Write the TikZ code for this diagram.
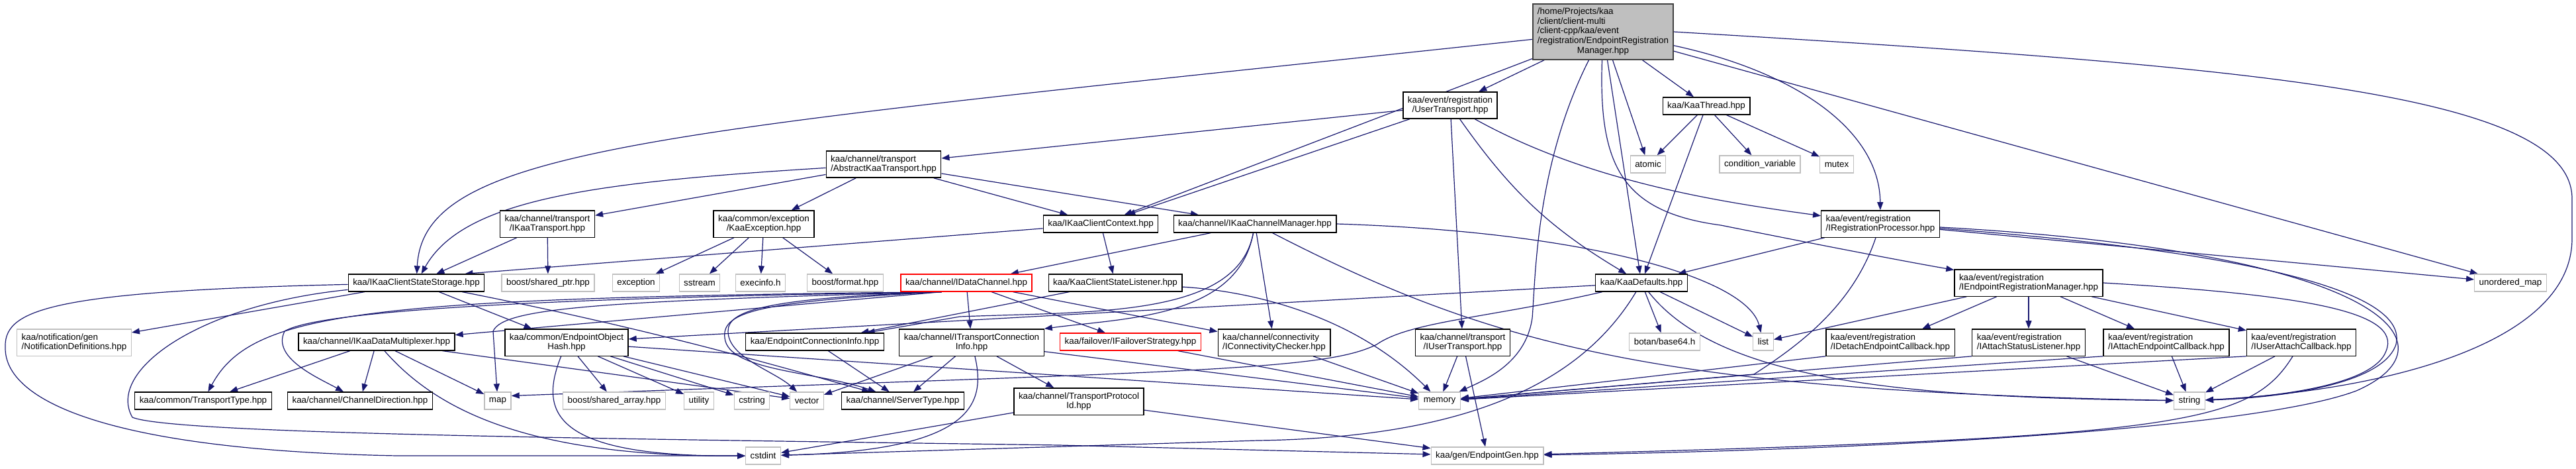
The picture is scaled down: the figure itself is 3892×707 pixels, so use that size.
\documentclass[tikz,border=0pt]{standalone}
\usepackage{fontspec}
\setmainfont{Liberation Sans}
\usetikzlibrary{arrows.meta}
\definecolor{depblue}{HTML}{191970}
\definecolor{sysgray}{HTML}{BFBFBF}
\pgfdeclarelayer{bg}
\pgfsetlayers{bg,main}
\tikzset{
  hdr/.style={draw=black,line width=1.3pt,fill=white,inner xsep=7pt,inner ysep=6.5pt,
    minimum height=26pt,align=center,font=\fontsize{13.4}{14.8}\selectfont},
  hdrl/.style={hdr,align=left},
  sys/.style={hdr,draw=sysgray},
  trunc/.style={hdr,draw=red},
  mainhdr/.style={hdr,fill=sysgray,draw=black!75,inner ysep=5pt},
  dep/.style={draw=depblue,line width=1.2pt,-{Triangle[length=12pt,width=9pt]}},
}
\begin{document}
\begin{tikzpicture}[x=1pt,y=-1pt]
\useasboundingbox (0,0) rectangle (3892,707);
% headers
\node[mainhdr] (root) at (2422,48) {\begin{tabular}{@{}l@{}}/home/Projects/kaa\\/client/client-multi\\/client-cpp/kaa/event\\/registration/EndpointRegistration\\\multicolumn{1}{@{}c@{}}{Manager.hpp}\end{tabular}};
\node[hdr] (usrtr) at (2191,159) {kaa/event/registration\\/UserTransport.hpp};
\node[hdr] (kthread) at (2578,160) {kaa/KaaThread.hpp};
\node[hdrl] (abstr) at (1335,248) {kaa/channel/transport\\/AbstractKaaTransport.hpp};
\node[sys] (atomic) at (2490,248) {atomic};
\node[sys] (condvar) at (2659,248) {condition\_variable};
\node[sys] (mutex) at (2775,248) {mutex};
\node[hdr] (iktr) at (827,338) {kaa/channel/transport\\/IKaaTransport.hpp};
\node[hdr] (kexc) at (1154,338) {kaa/common/exception\\/KaaException.hpp};
\node[hdr] (ctx) at (1663,338) {kaa/IKaaClientContext.hpp};
\node[hdr] (chmgr) at (1896,338) {kaa/channel/IKaaChannelManager.hpp};
\node[hdrl] (regproc) at (2841,338) {kaa/event/registration\\/IRegistrationProcessor.hpp};
\node[hdr] (stor) at (629,427) {kaa/IKaaClientStateStorage.hpp};
\node[sys] (shptr) at (828,427) {boost/shared\_ptr.hpp};
\node[sys] (exc) at (961,427) {exception};
\node[sys] (sstream) at (1057,427) {sstream};
\node[sys] (execinfo) at (1149,427) {execinfo.h};
\node[sys] (bfmt) at (1277,427) {boost/format.hpp};
\node[trunc] (dchan) at (1460,427) {kaa/channel/IDataChannel.hpp};
\node[hdr] (cslist) at (1685,427) {kaa/KaaClientStateListener.hpp};
\node[hdr] (kdef) at (2480,427) {kaa/KaaDefaults.hpp};
\node[hdrl] (eprm) at (3065,427) {kaa/event/registration\\/IEndpointRegistrationManager.hpp};
\node[sys] (umap) at (3793,427) {unordered\_map};
\node[sys,align=left] (notif) at (112,517) {kaa/notification/gen\\/NotificationDefinitions.hpp};
\node[hdr] (mux) at (569,516) {kaa/channel/IKaaDataMultiplexer.hpp};
\node[hdr] (eohash) at (856,517) {kaa/common/EndpointObject\\Hash.hpp};
\node[hdr] (epci) at (1231,516) {kaa/EndpointConnectionInfo.hpp};
\node[hdr] (itci) at (1468,517) {kaa/channel/ITransportConnection\\Info.hpp};
\node[trunc] (failover) at (1708,516) {kaa/failover/IFailoverStrategy.hpp};
\node[hdrl] (conn) at (1925,517) {kaa/channel/connectivity\\/IConnectivityChecker.hpp};
\node[hdr] (iusrtr) at (2210,517) {kaa/channel/transport\\/IUserTransport.hpp};
\node[sys] (b64) at (2515,516) {botan/base64.h};
\node[sys] (list) at (2664,516) {list};
\node[hdrl] (decb) at (2856,517) {kaa/event/registration\\/IDetachEndpointCallback.hpp};
\node[hdrl] (asl) at (3065,517) {kaa/event/registration\\/IAttachStatusListener.hpp};
\node[hdrl] (aecb) at (3273,517) {kaa/event/registration\\/IAttachEndpointCallback.hpp};
\node[hdrl] (uacb) at (3477,517) {kaa/event/registration\\/IUserAttachCallback.hpp};
\node[hdr] (trtype) at (307,605) {kaa/common/TransportType.hpp};
\node[hdr] (chdir) at (544,605) {kaa/channel/ChannelDirection.hpp};
\node[sys] (map) at (752,605) {map};
\node[sys] (sharr) at (928,605) {boost/shared\_array.hpp};
\node[sys] (utility) at (1056,605) {utility};
\node[sys] (cstring) at (1136,605) {cstring};
\node[sys] (vector) at (1219,605) {vector};
\node[hdr] (srvtype) at (1364,605) {kaa/channel/ServerType.hpp};
\node[hdr] (tpid) at (1630,606) {kaa/channel/TransportProtocol\\Id.hpp};
\node[sys] (memory) at (2175,605) {memory};
\node[sys] (string) at (3308,605) {string};
\node[sys] (cstdint) at (1153,688) {cstdint};
\node[sys] (epgen) at (2247,688) {kaa/gen/EndpointGen.hpp};
\begin{pgfonlayer}{bg}
% includes of the main header
\draw[dep] (root) .. controls (1000,200) and (640,220) .. (stor);
\draw[dep] (root) -- (ctx);
\draw[dep] (root) -- (usrtr);
\draw[dep] (root) .. controls (2320,250) and (2320,420) .. (2315,480) .. controls (2305,550) and (2240,575) .. (memory);
\draw[dep] (root) -- (kdef);
\draw[dep] (root) .. controls (2415,250) and (2450,320) .. (2600,340) .. controls (2750,370) and (2880,395) .. (eprm);
\draw[dep] (root) -- (atomic);
\draw[dep] (root) -- (kthread);
\draw[dep] (root.east) .. controls (3400,100) and (3886,140) .. (3886,300) -- (3886,360) .. controls (3886,520) and (3600,590) .. (string);
\draw[dep] (root.-11) .. controls (2720,110) and (2840,200) .. (regproc);
\draw[dep] (root) -- (umap);
% second level
\draw[dep] (usrtr) -- (abstr);
\draw[dep] (usrtr) -- (ctx);
\draw[dep] (usrtr) -- (iusrtr);
\draw[dep] (usrtr) to[bend right=12] (kdef);
\draw[dep] (usrtr) .. controls (2400,275) and (2600,305) .. (regproc);
\draw[dep] (kthread) -- (atomic);
\draw[dep] (kthread) -- (kdef);
\draw[dep] (kthread) -- (condvar);
\draw[dep] (kthread) -- (mutex);
\draw[dep] (abstr) .. controls (900,275) and (700,300) .. (stor);
\draw[dep] (abstr) -- (iktr);
\draw[dep] (abstr) -- (kexc);
\draw[dep] (abstr) -- (ctx);
\draw[dep] (abstr) -- (chmgr);
\draw[dep] (iktr) -- (stor);
\draw[dep] (iktr) -- (shptr);
\draw[dep] (kexc) -- (exc);
\draw[dep] (kexc) -- (sstream);
\draw[dep] (kexc) -- (execinfo);
\draw[dep] (kexc) -- (bfmt);
\draw[dep] (ctx) -- ([xshift=-30pt]stor.north east);
\draw[dep] (ctx) -- (cslist);
\draw[dep] (chmgr) -- (dchan);
\draw[dep] (chmgr) .. controls (1870,480) and (1700,480) .. (itci.north east);
\draw[dep] (chmgr) .. controls (1870,480) and (1650,470) .. (1450,478) -- (epci);
\draw[dep] (chmgr) -- (conn);
\draw[dep] (chmgr.east) .. controls (2400,350) and (2640,420) .. (list);
\draw[dep] (chmgr) .. controls (2250,520) and (2500,590) .. (string);
\draw[dep] (cslist) -- (epci);
\draw[dep] (cslist) .. controls (1900,440) and (2050,480) .. (memory);
% IDataChannel
\draw[dep] (dchan) -- (itci);
\draw[dep] (dchan) -- (failover);
\draw[dep] (dchan) -- (conn);
\draw[dep] (dchan.200) -- (mux);
\draw[dep] (dchan.200) .. controls (550,450) and (380,470) .. (trtype);
\draw[dep] (dchan.200) .. controls (800,450) and (480,470) .. (430,500) .. controls (410,540) and (480,570) .. (chdir);
\draw[dep] (dchan.200) .. controls (900,455) and (760,465) .. (745,500) -- (map);
\draw[dep] (dchan.200) .. controls (1150,450) and (1100,470) .. (1100,500) .. controls (1100,540) and (1170,560) .. (vector);
\draw[dep] (dchan.200) .. controls (1150,455) and (1090,470) .. (1095,510) .. controls (1100,560) and (1230,560) .. (srvtype);
\draw[dep] (itci) -- (srvtype);
\draw[dep] (itci) -- (tpid);
\draw[dep] (itci) .. controls (1490,610) and (1470,680) .. (cstdint);
\draw[dep] (itci) -- (vector);
\draw[dep] (itci) -- (memory);
% KaaDefaults
\draw[dep] (kdef) -- (eohash);
\draw[dep] (kdef) .. controls (2250,480) and (2130,485) .. (2080,520) .. controls (2000,560) and (1800,560) .. (map.20);
\draw[dep] (kdef) .. controls (2400,560) and (2250,660) .. (1900,665) -- (cstdint);
\draw[dep] (kdef) -- (b64);
\draw[dep] (kdef) -- (list);
\draw[dep] (kdef) .. controls (2600,580) and (2900,600) .. (string);
% registration
\draw[dep] (regproc) -- (kdef);
\draw[dep] (regproc) .. controls (2800,460) and (2720,520) .. (2650,565) -- (memory);
\draw[dep] (regproc) -- (umap);
\draw[dep] (regproc) .. controls (3600,380) and (3720,520) .. (3560,590) .. controls (3400,650) and (2800,680) .. (epgen);
\draw[dep] (regproc) .. controls (3400,380) and (3640,440) .. (3620,520) .. controls (3600,580) and (3450,600) .. (string);
\draw[dep] (eprm) -- (list);
\draw[dep] (eprm) -- (decb);
\draw[dep] (eprm) -- (asl);
\draw[dep] (eprm) -- (aecb);
\draw[dep] (eprm) -- (uacb);
\draw[dep] (eprm.east) .. controls (3480,445) and (3630,470) .. (3605,530) .. controls (3585,585) and (3420,600) .. (string);
\draw[dep] (decb.south west) -- (memory);
\draw[dep] (asl.south west) -- (memory);
\draw[dep] (asl) -- (string);
\draw[dep] (aecb.south west) -- (memory);
\draw[dep] (aecb) -- (string);
\draw[dep] (uacb.south west) -- (memory);
\draw[dep] (uacb) -- (string);
\draw[dep] (uacb) .. controls (3400,640) and (3300,660) .. (epgen);
% lower rows
\draw[dep] (iusrtr) -- (memory);
\draw[dep] (iusrtr) -- (epgen);
\draw[dep] (conn) -- (memory);
\draw[dep] (failover) -- (memory);
\draw[dep] (tpid) -- (cstdint);
\draw[dep] (tpid) -- (epgen);
\draw[dep] (epci) -- (srvtype);
\draw[dep] (eohash) .. controls (815,620) and (830,690) .. (cstdint);
\draw[dep] (eohash) -- (sharr);
\draw[dep] (eohash) -- (utility);
\draw[dep] (eohash) -- (cstring);
\draw[dep] (eohash) -- (vector);
\draw[dep] (eohash) -- (memory);
\draw[dep] (mux) -- (trtype);
\draw[dep] (mux) -- (chdir);
\draw[dep] (mux) -- (map);
\draw[dep] (mux) -- (vector);
\draw[dep] (mux) .. controls (660,620) and (800,690) .. (cstdint);
\draw[dep] (stor) -- (notif);
\draw[dep] (stor) -- (eohash);
\draw[dep] (stor) .. controls (60,440) and (5,470) .. (8,527) .. controls (10,610) and (180,680) .. (600,688) -- (cstdint);
\draw[dep] (stor) .. controls (300,460) and (160,560) .. (200,630) .. controls (260,655) and (900,662) .. (1600,672) -- (epgen);
\draw[dep] (stor) .. controls (1000,500) and (1200,560) .. (srvtype);
\end{pgfonlayer}
\end{tikzpicture}
\end{document}
